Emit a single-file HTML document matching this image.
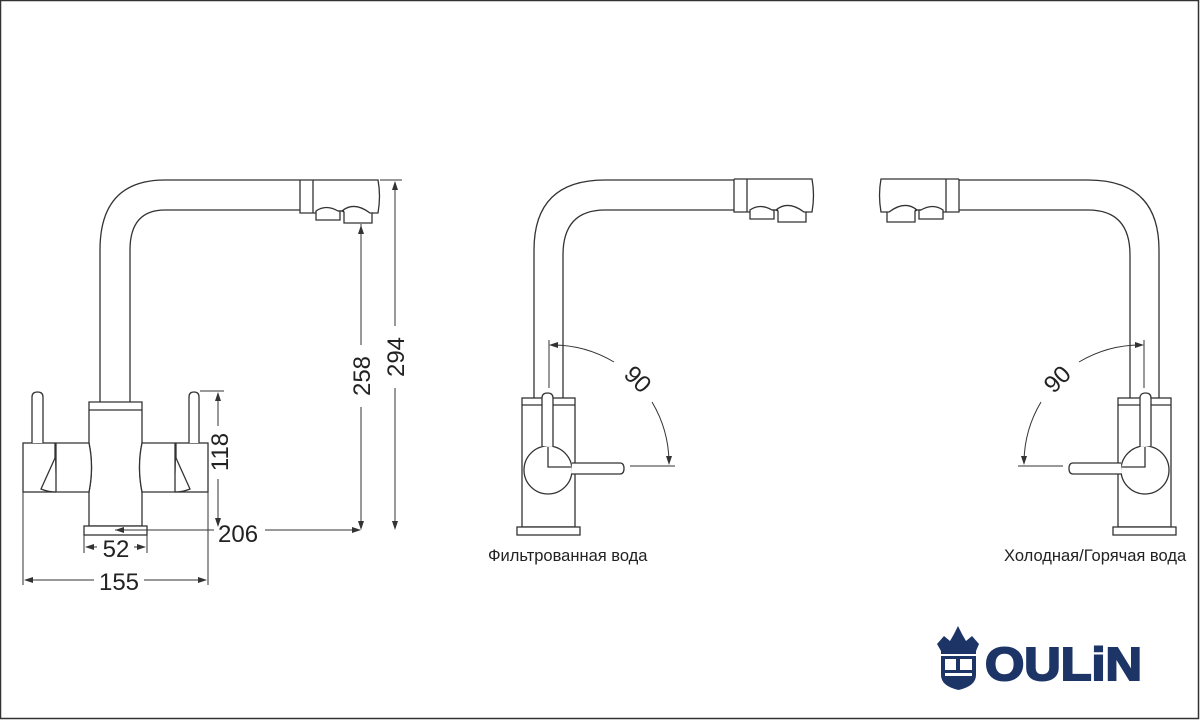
<!DOCTYPE html>
<html><head><meta charset="utf-8"><style>
html,body{margin:0;padding:0;background:#fff}
svg{display:block}
text{font-family:"Liberation Sans",Arial,sans-serif;fill:#222}
</style></head><body>
<svg width="1200" height="720" viewBox="0 0 1200 720" xmlns="http://www.w3.org/2000/svg">
<defs>
<g id="head" fill="none" stroke="#333" stroke-width="1.3">
  <path d="M0 0 H78 Q81 16 78 33 H72"/>
  <path d="M0 0 V33 H16"/>
  <line x1="13" y1="0" x2="13" y2="33"/>
  <path d="M16 31 Q26 24 38 31 H40 V40 H16 Z"/>
  <path d="M42 31 Q54 21 70 33 H72 V43 H44 V32 Z"/>
  <path d="M38 31 H44"/>
</g>
<g id="side">
  <path d="M534 398 V250 Q534 180 605 180 H734" fill="none" stroke="#333" stroke-width="1.3"/>
  <path d="M563 398 V255 Q563 210 605 210 H734" fill="none" stroke="#333" stroke-width="1.3"/>
  <use href="#head" x="734" y="179"/>
  <rect x="522" y="398" width="53" height="129" fill="#fff" stroke="#333" stroke-width="1.3"/>
  <line x1="522" y1="405" x2="575" y2="405" stroke="#333" stroke-width="1.3"/>
  <rect x="517" y="527" width="63" height="8" fill="#fff" stroke="#333" stroke-width="1.3"/>
  <circle cx="548" cy="470" r="24" fill="#fff" stroke="#333" stroke-width="1.3"/>
  <path d="M542 446 V398 Q542 393 547.5 393 Q553 393 553 398 V447" fill="#fff" stroke="#333" stroke-width="1.3"/>
  <path d="M548 447 V467 H572" fill="none" stroke="#333" stroke-width="1.3"/>
  <path d="M572 463 H620 Q624 463 624 468.5 Q624 474 620 474 H571" fill="#fff" stroke="#333" stroke-width="1.3"/>
  <line x1="549" y1="340" x2="549" y2="388" stroke="#333" stroke-width="1"/>
  <line x1="630" y1="466" x2="675" y2="466" stroke="#333" stroke-width="1"/>
  <path d="M552 345 A120 120 0 0 1 614 362" fill="none" stroke="#333" stroke-width="1"/>
  <path d="M652 402 A120 120 0 0 1 669 462" fill="none" stroke="#333" stroke-width="1"/>
  <path d="M549 345 L558 342 L558 348 Z" fill="#333"/>
  <path d="M669 465 L666 456 L672 456 Z" fill="#333"/>
</g>
</defs>
<rect x="0.5" y="0.5" width="1198" height="718" fill="#fff" stroke="#333" stroke-width="1.5"/>

<g fill="none" stroke="#333" stroke-width="1.3">
  <path d="M100 402 V250 Q100 180 165 180 H300"/>
  <path d="M130 402 V250 Q130 210 165 210 H300"/>
</g>
<use href="#head" x="300" y="180"/>
<g fill="#fff" stroke="#333" stroke-width="1.3">
  <path d="M89 402 H142 V443 Q137 467 142 492 V526 H89 V492 Q94 467 89 443 Z"/>
  <line x1="89" y1="410" x2="142" y2="410"/>
  <rect x="84" y="526" width="63" height="9"/>
  <rect x="23" y="443" width="32" height="49"/>
  <path d="M55 458 L41 489 Q48 492 56 492"/>
  <path d="M56 443 H89 Q94 467 89 492 H56 Z"/>
  <path d="M32 443 V397 Q32 392 37.5 392 Q43 392 43 397 V443"/>
  <rect x="176" y="443" width="32" height="49"/>
  <path d="M176 458 L190 489 Q183 492 175 492"/>
  <path d="M175 443 H142 Q137 467 142 492 H175 Z"/>
  <path d="M189 443 V397 Q189 392 194 392 Q199 392 199 397 V443"/>
</g>
<g stroke="#333" stroke-width="1" fill="none">
  <line x1="200" y1="391" x2="224" y2="391"/>
  <line x1="218" y1="393" x2="218" y2="426"/>
  <line x1="218" y1="479" x2="218" y2="525"/>
  <line x1="380" y1="180" x2="402" y2="180"/>
  <line x1="395" y1="182" x2="395" y2="326"/>
  <line x1="395" y1="388" x2="395" y2="528"/>
  <line x1="361" y1="224" x2="361" y2="345"/>
  <line x1="361" y1="407" x2="361" y2="528"/>
  <line x1="115" y1="530" x2="214" y2="530"/>
  <line x1="265" y1="530" x2="360" y2="530"/>
  <line x1="84" y1="535" x2="84" y2="553"/>
  <line x1="147" y1="535" x2="147" y2="553"/>
  <line x1="86" y1="547" x2="97" y2="547"/>
  <line x1="134" y1="547" x2="145" y2="547"/>
  <line x1="23" y1="492" x2="23" y2="585"/>
  <line x1="208" y1="492" x2="208" y2="585"/>
  <line x1="25" y1="580" x2="94" y2="580"/>
  <line x1="144" y1="580" x2="206" y2="580"/>
</g>
<g fill="#333">
  <path d="M218 392 L215 401 L221 401 Z"/>
  <path d="M218 527 L215 518 L221 518 Z"/>
  <path d="M395 181 L392 190 L398 190 Z"/>
  <path d="M395 530 L392 521 L398 521 Z"/>
  <path d="M361 225 L358 234 L364 234 Z"/>
  <path d="M361 530 L358 521 L364 521 Z"/>
  <path d="M115 530 L124 527 L124 533 Z"/>
  <path d="M361 530 L352 527 L352 533 Z"/>
  <path d="M85 547 L94 544 L94 550 Z"/>
  <path d="M146 547 L137 544 L137 550 Z"/>
  <path d="M24 580 L33 577 L33 583 Z"/>
  <path d="M207 580 L198 577 L198 583 Z"/>
</g>
<text x="218" y="542" font-size="24">206</text>
<text x="116" y="557" font-size="24" text-anchor="middle">52</text>
<text x="119" y="590" font-size="24" text-anchor="middle">155</text>
<text transform="translate(228,452) rotate(-90)" font-size="24" text-anchor="middle">118</text>
<text transform="translate(370,376) rotate(-90)" font-size="24" text-anchor="middle">258</text>
<text transform="translate(404,357) rotate(-90)" font-size="24" text-anchor="middle">294</text>

<use href="#side"/>
<text transform="translate(632,385) rotate(45)" font-size="24" text-anchor="middle">90</text>
<text x="488" y="561" font-size="16.5">Фильтрованная вода</text>

<g transform="translate(1693,0) scale(-1,1)"><use href="#side"/></g>
<text transform="translate(1063,385) rotate(-45)" font-size="24" text-anchor="middle">90</text>
<text x="1004" y="561" font-size="16.5">Холодная/Горячая вода</text>

<g fill="#1d3566">
  <path d="M937 644 L944 636 L950 641 L954 634 L958 626 L962 634 L966 641 L972 636 L979 644 L976 651 H941 Z"/>
  <rect x="941" y="651" width="35" height="3"/>
  <path d="M941 656 H976 V675 Q976 686 958.5 690 Q941 686 941 675 Z"/>
</g>
<g fill="#fff">
  <rect x="945" y="659" width="11" height="11"/>
  <rect x="960" y="659" width="12" height="11"/>
  <rect x="945" y="673" width="27" height="3"/>
</g>
<text x="985" y="680" font-size="46" font-weight="bold" style="fill:#1d3566" stroke="#1d3566" stroke-width="2" textLength="157" lengthAdjust="spacingAndGlyphs">OULiN</text>
</svg>
</body></html>
